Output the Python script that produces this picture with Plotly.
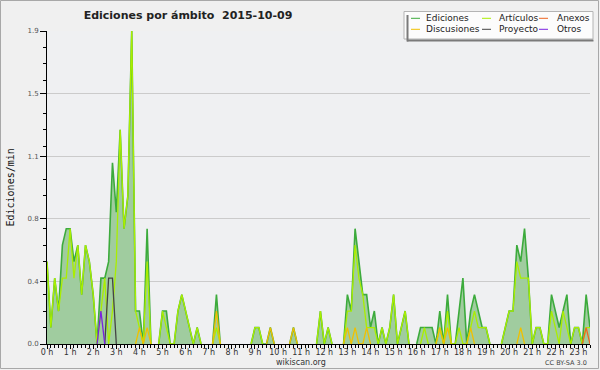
import plotly.graph_objects as go

# ---- data: 10-minute bins, edits per minute, 2015-10-09 ----
minutes = list(range(0, 142 * 10, 10))  # 00:00 .. 23:30
hour_ticks = list(range(24))
hour_labels = [f"{h} h" for h in hour_ticks]

ediciones = [0.5, 0.1, 0.4, 0.2, 0.6, 0.7, 0.7, 0.5, 0.6, 0.3, 0.6, 0.5, 0.3, 0.0, 0.4, 0.4,
             0.5, 1.1, 0.8, 1.3, 0.7, 0.9, 1.9, 0.2, 0.2, 0.0, 0.7, 0.0, 0.0, 0.0, 0.2, 0.2,
             0.0, 0.0, 0.2, 0.3, 0.2, 0.1, 0.0, 0.1, 0.0, 0.0, 0.0, 0.0, 0.3, 0.0, 0.0, 0.0,
             0.0, 0.0, 0.0, 0.0, 0.0, 0.0, 0.1, 0.1, 0.0, 0.0, 0.1, 0.0, 0.0, 0.0, 0.0, 0.0,
             0.1, 0.0, 0.0, 0.0, 0.0, 0.0, 0.0, 0.2, 0.0, 0.1, 0.0, 0.0, 0.0, 0.0, 0.3, 0.2,
             0.7, 0.5, 0.3, 0.3, 0.1, 0.2, 0.0, 0.1, 0.0, 0.1, 0.3, 0.0, 0.1, 0.2, 0.0, 0.0,
             0.0, 0.1, 0.1, 0.1, 0.1, 0.0, 0.2, 0.0, 0.3, 0.0, 0.0, 0.2, 0.4, 0.0, 0.2, 0.3,
             0.2, 0.1, 0.1, 0.0, 0.0, 0.0, 0.0, 0.1, 0.2, 0.2, 0.6, 0.5, 0.7, 0.4, 0.0, 0.1,
             0.1, 0.0, 0.0, 0.3, 0.2, 0.1, 0.2, 0.3, 0.0, 0.1, 0.1, 0.0, 0.3, 0.1]

articulos = [0.5, 0.1, 0.4, 0.2, 0.4, 0.4, 0.7, 0.4, 0.6, 0.3, 0.6, 0.5, 0.3, 0.0, 0.2, 0.4,
             0.0, 0.2, 0.5, 1.3, 0.7, 0.9, 1.9, 0.2, 0.1, 0.0, 0.5, 0.0, 0.0, 0.0, 0.2, 0.1,
             0.0, 0.0, 0.2, 0.3, 0.2, 0.1, 0.0, 0.1, 0.0, 0.0, 0.0, 0.0, 0.1, 0.0, 0.0, 0.0,
             0.0, 0.0, 0.0, 0.0, 0.0, 0.0, 0.1, 0.1, 0.0, 0.0, 0.0, 0.0, 0.0, 0.0, 0.0, 0.0,
             0.0, 0.0, 0.0, 0.0, 0.0, 0.0, 0.0, 0.2, 0.0, 0.1, 0.0, 0.0, 0.0, 0.0, 0.2, 0.2,
             0.6, 0.4, 0.3, 0.1, 0.1, 0.1, 0.0, 0.1, 0.0, 0.1, 0.3, 0.0, 0.1, 0.2, 0.0, 0.0,
             0.0, 0.0, 0.1, 0.0, 0.0, 0.0, 0.1, 0.0, 0.2, 0.0, 0.0, 0.1, 0.0, 0.0, 0.1, 0.2,
             0.1, 0.1, 0.1, 0.0, 0.0, 0.0, 0.0, 0.1, 0.2, 0.2, 0.5, 0.4, 0.4, 0.4, 0.0, 0.1,
             0.1, 0.0, 0.0, 0.2, 0.1, 0.0, 0.2, 0.1, 0.0, 0.1, 0.1, 0.0, 0.1, 0.1]

discusiones_idx = [24, 26, 44, 58, 64, 78, 80, 83, 102, 104, 110, 123]
discusiones_val = [0.1, 0.1, 0.2, 0.1, 0.1, 0.1, 0.1, 0.1, 0.1, 0.1, 0.1, 0.1]
anexos_idx = [140]
anexos_val = [0.1]
proyecto_idx = [16, 17]
proyecto_val = [0.4, 0.4]
otros_idx = [14]
otros_val = [0.2]

y_tickvals = [0.0, 0.38, 0.76, 1.14, 1.52, 1.9]
y_ticktext = ["0.0", "0.4", "0.8", "1.1", "1.5", "1.9"]
y_minor = [0.1, 0.2, 0.3, 0.5, 0.6, 0.7, 0.9, 1.0, 1.2, 1.3, 1.4, 1.6, 1.7, 1.8]

n = len(minutes)
hours = [m / 60 for m in minutes]


def sparse(idx, val):
    out = [0.0] * n
    for i, v in zip(idx, val):
        out[i] = v
    return out


def mask(v):
    out = []
    for i, val in enumerate(v):
        left = v[i - 1] if i > 0 else 0
        right = v[i + 1] if i < len(v) - 1 else 0
        out.append(None if (val == 0 and left == 0 and right == 0) else val)
    return out


discusiones = sparse(discusiones_idx, discusiones_val)
anexos = sparse(anexos_idx, anexos_val)
proyecto = sparse(proyecto_idx, proyecto_val)
otros = sparse(otros_idx, otros_val)

C_FILL = "#a0cc9f"
C_ED = "#3cab3c"
C_ART = "#aaee00"
C_DIS = "#f0c000"
C_ANX = "#ee6622"
C_PRO = "#444444"
C_OTR = "#7a22e0"

W, H = 600, 370
ML, MR, MT, MB = 47, 10, 31, 26
PW, PH = W - ML - MR, H - MT - MB


def xp(x):
    return (x - ML) / PW


def yp(y):
    return (H - MB - y) / PH


fig = go.Figure()
fig.add_trace(go.Scatter(x=hours, y=ediciones, mode="lines", line=dict(width=0, color=C_FILL),
                         fill="tozeroy", fillcolor=C_FILL, hoverinfo="skip", showlegend=False))
series = [
    ("Ediciones", ediciones, C_ED, 1.6),
    ("Artículos", articulos, C_ART, 1.3),
    ("Discusiones", discusiones, C_DIS, 1.3),
    ("Anexos", anexos, C_ANX, 1.3),
    ("Proyecto", proyecto, C_PRO, 1.3),
    ("Otros", otros, C_OTR, 1.3),
]
for name, vals, col, w in series:
    fig.add_trace(go.Scatter(x=hours, y=mask(vals), mode="lines", name=name,
                             line=dict(color=col, width=w), connectgaps=False, showlegend=False))

shapes = []
annotations = []

# outer frame
shapes.append(dict(type="rect", xref="paper", yref="paper", x0=xp(0.5), x1=xp(598.5),
                   y0=yp(368.5), y1=yp(0.5), line=dict(color="#a8a8a8", width=1), layer="below"))

# legend box
shapes.append(dict(type="rect", xref="paper", yref="paper", x0=xp(404), x1=xp(593),
                   y0=yp(39), y1=yp(11.5), line=dict(color="#b4b4b4", width=1),
                   fillcolor="#fcfcfc", layer="above"))
shapes.append(dict(type="line", xref="paper", yref="paper", x0=xp(407.5), x1=xp(407.5),
                   y0=yp(15), y1=yp(41.5), line=dict(color="#7a7a7a", width=2), layer="above"))
shapes.append(dict(type="line", xref="paper", yref="paper", x0=xp(407), x1=xp(593.5),
                   y0=yp(40.5), y1=yp(40.5), line=dict(color="#7a7a7a", width=2), layer="above"))
legend_items = [
    ("Ediciones", C_ED, 411, 424, 18.3), ("Artículos", C_ART, 482, 497, 18.3), ("Anexos", C_ANX, 539, 555, 18.3),
    ("Discusiones", C_DIS, 411, 424, 29.3), ("Proyecto", C_PRO, 482, 497, 29.3), ("Otros", C_OTR, 539, 555, 29.3),
]
for name, col, sx, tx, ty in legend_items:
    shapes.append(dict(type="line", xref="paper", yref="paper", x0=xp(sx), x1=xp(sx + 9),
                       y0=yp(ty), y1=yp(ty), line=dict(color=col, width=1), layer="above"))
    annotations.append(dict(text=name, xref="paper", yref="paper", x=xp(tx), y=yp(ty),
                            xanchor="left", yanchor="middle", showarrow=False,
                            font=dict(family="DejaVu Sans", size=9, color="#222222")))

annotations.append(dict(text="Ediciones/min", xref="paper", yref="paper", x=xp(9.5), y=yp(188),
                        textangle=-90, xanchor="center", yanchor="middle", showarrow=False,
                        font=dict(family="DejaVu Sans Mono", size=10, color="#111111")))
annotations.append(dict(text="wikiscan.org", xref="paper", yref="paper", x=xp(301), y=yp(362),
                        xanchor="center", yanchor="middle", showarrow=False,
                        font=dict(family="DejaVu Sans", size=8, color="#333333")))
annotations.append(dict(text="CC BY-SA 3.0", xref="paper", yref="paper", x=xp(589), y=yp(362.5),
                        xanchor="right", yanchor="middle", showarrow=False,
                        font=dict(family="DejaVu Sans", size=6.5, color="#444444")))

fig.update_layout(
    width=W, height=H,
    margin=dict(l=ML, r=MR, t=MT, b=MB, pad=0),
    paper_bgcolor="#f0f0f0", plot_bgcolor="#eff0f2",
    title=dict(text="Ediciones por ámbito  2015-10-09", x=188 / W, xref="container", xanchor="center",
               y=1 - 15 / H, yref="container", yanchor="middle",
               font=dict(family="DejaVu Sans", size=11, color="#222222", weight="bold")),
    xaxis=dict(range=[0, 23.5], tickmode="array", tickvals=hour_ticks, ticktext=hour_labels,
               showgrid=False, zeroline=False, showline=True, linecolor="#000000", linewidth=1,
               ticks="outside", ticklen=4, tickcolor="#000000", tickwidth=1, ticklabelstandoff=-4,
               tickfont=dict(family="DejaVu Sans", size=8, color="#333333"),
               minor=dict(dtick=1 / 6, ticks="outside", ticklen=3, tickcolor="#000000", showgrid=False)),
    yaxis=dict(range=[0, 1.9], tickmode="array", tickvals=y_tickvals, ticktext=y_ticktext,
               showgrid=True, gridcolor="#cbcbcb", gridwidth=1, zeroline=False,
               showline=True, linecolor="#000000", linewidth=1,
               ticks="outside", ticklen=6, tickcolor="#000000", tickwidth=1,
               tickfont=dict(family="DejaVu Sans", size=7, color="#555555"),
               minor=dict(tickmode="array", tickvals=y_minor, ticks="outside", ticklen=3,
                          tickcolor="#000000", showgrid=False)),
    shapes=shapes, annotations=annotations, showlegend=False,
)

fig.write_html("out.html", config={"displayModeBar": False},
               post_script="document.body.style.margin='0';document.body.style.padding='0';")
